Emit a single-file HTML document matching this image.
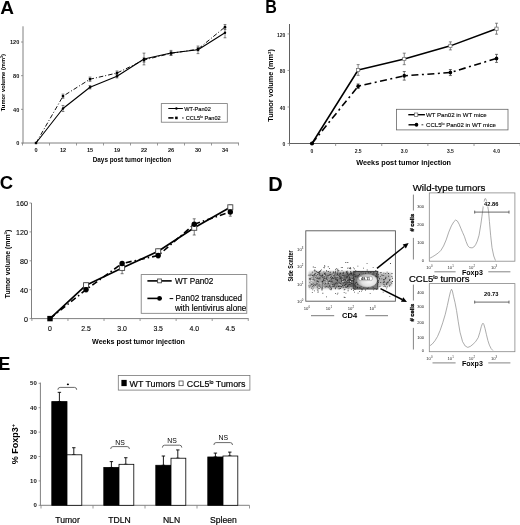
<!DOCTYPE html>
<html><head><meta charset="utf-8"><style>
html,body{margin:0;padding:0;background:#fff;width:520px;height:525px;overflow:hidden}
svg{display:block;will-change:transform}
text{font-family:"Liberation Sans",sans-serif}
</style></head><body>
<svg width="520" height="525" viewBox="0 0 520 525" font-family="Liberation Sans, sans-serif">
<text x="0.2" y="13.7" font-size="19" font-weight="bold">A</text>
<line x1="23" y1="26.3" x2="23" y2="143.5" stroke="#808080" stroke-width="1"/>
<line x1="22.5" y1="143" x2="239" y2="143" stroke="#808080" stroke-width="1"/>
<line x1="21" y1="143" x2="23" y2="143" stroke="#808080" stroke-width="0.8"/>
<text x="19.3" y="145.4" font-size="5.6" text-anchor="end" font-weight="bold" fill="#111">0</text>
<line x1="21" y1="109.33" x2="23" y2="109.33" stroke="#808080" stroke-width="0.8"/>
<text x="19.3" y="111.74" font-size="5.6" text-anchor="end" font-weight="bold" fill="#111">40</text>
<line x1="21" y1="75.66" x2="23" y2="75.66" stroke="#808080" stroke-width="0.8"/>
<text x="19.3" y="78.07" font-size="5.6" text-anchor="end" font-weight="bold" fill="#111">80</text>
<line x1="21" y1="42" x2="23" y2="42" stroke="#808080" stroke-width="0.8"/>
<text x="19.3" y="44.4" font-size="5.6" text-anchor="end" font-weight="bold" fill="#111">120</text>
<line x1="22.5" y1="143" x2="22.5" y2="145.5" stroke="#808080" stroke-width="0.8"/>
<line x1="49.5" y1="143" x2="49.5" y2="145.5" stroke="#808080" stroke-width="0.8"/>
<line x1="76.5" y1="143" x2="76.5" y2="145.5" stroke="#808080" stroke-width="0.8"/>
<line x1="103.5" y1="143" x2="103.5" y2="145.5" stroke="#808080" stroke-width="0.8"/>
<line x1="130.5" y1="143" x2="130.5" y2="145.5" stroke="#808080" stroke-width="0.8"/>
<line x1="157.5" y1="143" x2="157.5" y2="145.5" stroke="#808080" stroke-width="0.8"/>
<line x1="184.5" y1="143" x2="184.5" y2="145.5" stroke="#808080" stroke-width="0.8"/>
<line x1="211.5" y1="143" x2="211.5" y2="145.5" stroke="#808080" stroke-width="0.8"/>
<line x1="238.5" y1="143" x2="238.5" y2="145.5" stroke="#808080" stroke-width="0.8"/>
<text x="36" y="152" font-size="5.6" text-anchor="middle" font-weight="bold" fill="#111">0</text>
<text x="63" y="152" font-size="5.6" text-anchor="middle" font-weight="bold" fill="#111">12</text>
<text x="90" y="152" font-size="5.6" text-anchor="middle" font-weight="bold" fill="#111">15</text>
<text x="117" y="152" font-size="5.6" text-anchor="middle" font-weight="bold" fill="#111">19</text>
<text x="144" y="152" font-size="5.6" text-anchor="middle" font-weight="bold" fill="#111">22</text>
<text x="171" y="152" font-size="5.6" text-anchor="middle" font-weight="bold" fill="#111">26</text>
<text x="198" y="152" font-size="5.6" text-anchor="middle" font-weight="bold" fill="#111">30</text>
<text x="225" y="152" font-size="5.6" text-anchor="middle" font-weight="bold" fill="#111">34</text>
<text x="131.9" y="162.29" font-size="6.4" text-anchor="middle" font-weight="bold" fill="#000">Days post tumor injection</text>
<text transform="translate(5.28,82.6) rotate(-90)" font-size="5.8" text-anchor="middle" font-weight="bold" fill="#000">Tumor volume (mm<tspan font-size="3.6" dy="-2">3</tspan><tspan dy="2">)</tspan></text>
<polyline points="36,143 63,96.2 90,79.2 117,73.05 144,60.01 171,53.36 198,49.15 225,27.01" fill="none" stroke="#111" stroke-width="1" stroke-linejoin="round" stroke-dasharray="4.5,2,1,2"/>
<polyline points="36,143 63,108.49 90,87.2 117,76.25 144,59 171,52.94 198,49.82 225,32.74" fill="none" stroke="#000" stroke-width="1.1" stroke-linejoin="round"/>
<line x1="63" y1="105.46" x2="63" y2="111.52" stroke="#333" stroke-width="0.6"/>
<line x1="61.6" y1="105.46" x2="64.4" y2="105.46" stroke="#333" stroke-width="0.6"/>
<line x1="61.6" y1="111.52" x2="64.4" y2="111.52" stroke="#333" stroke-width="0.6"/>
<line x1="63" y1="94.1" x2="63" y2="98.31" stroke="#333" stroke-width="0.6"/>
<line x1="61.6" y1="94.1" x2="64.4" y2="94.1" stroke="#333" stroke-width="0.6"/>
<line x1="61.6" y1="98.31" x2="64.4" y2="98.31" stroke="#333" stroke-width="0.6"/>
<circle cx="63" cy="108.49" r="1.2" fill="#000"/>
<rect x="61.8" y="95" width="2.4" height="2.4" fill="#000"/>
<line x1="90" y1="85.51" x2="90" y2="88.88" stroke="#333" stroke-width="0.6"/>
<line x1="88.6" y1="85.51" x2="91.4" y2="85.51" stroke="#333" stroke-width="0.6"/>
<line x1="88.6" y1="88.88" x2="91.4" y2="88.88" stroke="#333" stroke-width="0.6"/>
<line x1="90" y1="77.09" x2="90" y2="81.3" stroke="#333" stroke-width="0.6"/>
<line x1="88.6" y1="77.09" x2="91.4" y2="77.09" stroke="#333" stroke-width="0.6"/>
<line x1="88.6" y1="81.3" x2="91.4" y2="81.3" stroke="#333" stroke-width="0.6"/>
<circle cx="90" cy="87.2" r="1.2" fill="#000"/>
<rect x="88.8" y="78" width="2.4" height="2.4" fill="#000"/>
<line x1="117" y1="74.57" x2="117" y2="77.94" stroke="#333" stroke-width="0.6"/>
<line x1="115.6" y1="74.57" x2="118.4" y2="74.57" stroke="#333" stroke-width="0.6"/>
<line x1="115.6" y1="77.94" x2="118.4" y2="77.94" stroke="#333" stroke-width="0.6"/>
<line x1="117" y1="70.95" x2="117" y2="75.16" stroke="#333" stroke-width="0.6"/>
<line x1="115.6" y1="70.95" x2="118.4" y2="70.95" stroke="#333" stroke-width="0.6"/>
<line x1="115.6" y1="75.16" x2="118.4" y2="75.16" stroke="#333" stroke-width="0.6"/>
<circle cx="117" cy="76.25" r="1.2" fill="#000"/>
<rect x="115.8" y="71.85" width="2.4" height="2.4" fill="#000"/>
<line x1="144" y1="53.11" x2="144" y2="64.89" stroke="#333" stroke-width="0.6"/>
<line x1="142.6" y1="53.11" x2="145.4" y2="53.11" stroke="#333" stroke-width="0.6"/>
<line x1="142.6" y1="64.89" x2="145.4" y2="64.89" stroke="#333" stroke-width="0.6"/>
<line x1="144" y1="57.9" x2="144" y2="62.11" stroke="#333" stroke-width="0.6"/>
<line x1="142.6" y1="57.9" x2="145.4" y2="57.9" stroke="#333" stroke-width="0.6"/>
<line x1="142.6" y1="62.11" x2="145.4" y2="62.11" stroke="#333" stroke-width="0.6"/>
<circle cx="144" cy="59" r="1.2" fill="#000"/>
<rect x="142.8" y="58.81" width="2.4" height="2.4" fill="#000"/>
<line x1="171" y1="50.41" x2="171" y2="55.46" stroke="#333" stroke-width="0.6"/>
<line x1="169.6" y1="50.41" x2="172.4" y2="50.41" stroke="#333" stroke-width="0.6"/>
<line x1="169.6" y1="55.46" x2="172.4" y2="55.46" stroke="#333" stroke-width="0.6"/>
<line x1="171" y1="51.68" x2="171" y2="55.04" stroke="#333" stroke-width="0.6"/>
<line x1="169.6" y1="51.68" x2="172.4" y2="51.68" stroke="#333" stroke-width="0.6"/>
<line x1="169.6" y1="55.04" x2="172.4" y2="55.04" stroke="#333" stroke-width="0.6"/>
<circle cx="171" cy="52.94" r="1.2" fill="#000"/>
<rect x="169.8" y="52.16" width="2.4" height="2.4" fill="#000"/>
<line x1="198" y1="46.04" x2="198" y2="53.61" stroke="#333" stroke-width="0.6"/>
<line x1="196.6" y1="46.04" x2="199.4" y2="46.04" stroke="#333" stroke-width="0.6"/>
<line x1="196.6" y1="53.61" x2="199.4" y2="53.61" stroke="#333" stroke-width="0.6"/>
<line x1="198" y1="47.47" x2="198" y2="50.83" stroke="#333" stroke-width="0.6"/>
<line x1="196.6" y1="47.47" x2="199.4" y2="47.47" stroke="#333" stroke-width="0.6"/>
<line x1="196.6" y1="50.83" x2="199.4" y2="50.83" stroke="#333" stroke-width="0.6"/>
<circle cx="198" cy="49.82" r="1.2" fill="#000"/>
<rect x="196.8" y="47.95" width="2.4" height="2.4" fill="#000"/>
<line x1="225" y1="27.69" x2="225" y2="37.79" stroke="#333" stroke-width="0.6"/>
<line x1="223.6" y1="27.69" x2="226.4" y2="27.69" stroke="#333" stroke-width="0.6"/>
<line x1="223.6" y1="37.79" x2="226.4" y2="37.79" stroke="#333" stroke-width="0.6"/>
<line x1="225" y1="24.49" x2="225" y2="29.54" stroke="#333" stroke-width="0.6"/>
<line x1="223.6" y1="24.49" x2="226.4" y2="24.49" stroke="#333" stroke-width="0.6"/>
<line x1="223.6" y1="29.54" x2="226.4" y2="29.54" stroke="#333" stroke-width="0.6"/>
<circle cx="225" cy="32.74" r="1.2" fill="#000"/>
<rect x="223.8" y="25.81" width="2.4" height="2.4" fill="#000"/>
<rect x="34.8" y="141.8" width="2.4" height="2.4" fill="#000"/>
<rect x="161.3" y="103.6" width="66" height="18.6" fill="#fff" stroke="#777" stroke-width="0.8"/>
<line x1="168.3" y1="108.5" x2="182.9" y2="108.5" stroke="#000" stroke-width="1"/>
<circle cx="176.4" cy="108.5" r="1.2" fill="#000"/>
<text x="184.2" y="110.62" font-size="5.65" text-anchor="start" fill="#000" stroke="#000" stroke-width="0.12">WT-Pan02</text>
<line x1="168.3" y1="117.9" x2="173.5" y2="117.9" stroke="#000" stroke-width="1.6"/>
<rect x="175.1" y="116.6" width="2.6" height="2.6" fill="#000"/>
<circle cx="182.9" cy="117.9" r="0.7" fill="#000"/>
<text x="185.8" y="119.92" font-size="5.65" text-anchor="start" fill="#000" stroke="#000" stroke-width="0.12">CCL5<tspan font-size="3.4" dy="-2">lo</tspan><tspan dy="2"> Pan02</tspan></text>
<text x="265.2" y="12.7" font-size="18" font-weight="bold" textLength="11.6" lengthAdjust="spacingAndGlyphs">B</text>
<line x1="289.5" y1="24" x2="289.5" y2="144" stroke="#606060" stroke-width="1"/>
<line x1="289.5" y1="143.5" x2="520" y2="143.5" stroke="#606060" stroke-width="1"/>
<line x1="287.5" y1="143.5" x2="289.5" y2="143.5" stroke="#808080" stroke-width="0.8"/>
<text x="285.4" y="146.19" font-size="5" text-anchor="end" font-weight="bold" fill="#222">0</text>
<line x1="287.5" y1="106.97" x2="289.5" y2="106.97" stroke="#808080" stroke-width="0.8"/>
<text x="285.4" y="109.66" font-size="5" text-anchor="end" font-weight="bold" fill="#222">40</text>
<line x1="287.5" y1="70.44" x2="289.5" y2="70.44" stroke="#808080" stroke-width="0.8"/>
<text x="285.4" y="73.13" font-size="5" text-anchor="end" font-weight="bold" fill="#222">80</text>
<line x1="287.5" y1="33.9" x2="289.5" y2="33.9" stroke="#808080" stroke-width="0.8"/>
<text x="285.4" y="36.59" font-size="5" text-anchor="end" font-weight="bold" fill="#222">120</text>
<line x1="289.5" y1="143.5" x2="289.5" y2="146" stroke="#808080" stroke-width="0.8"/>
<line x1="335.63" y1="143.5" x2="335.63" y2="146" stroke="#808080" stroke-width="0.8"/>
<line x1="381.76" y1="143.5" x2="381.76" y2="146" stroke="#808080" stroke-width="0.8"/>
<line x1="427.89" y1="143.5" x2="427.89" y2="146" stroke="#808080" stroke-width="0.8"/>
<line x1="474.02" y1="143.5" x2="474.02" y2="146" stroke="#808080" stroke-width="0.8"/>
<line x1="520.15" y1="143.5" x2="520.15" y2="146" stroke="#808080" stroke-width="0.8"/>
<text x="312" y="153.39" font-size="5" text-anchor="middle" font-weight="bold" fill="#222">0</text>
<text x="358.13" y="153.39" font-size="5" text-anchor="middle" font-weight="bold" fill="#222">2.5</text>
<text x="404.26" y="153.39" font-size="5" text-anchor="middle" font-weight="bold" fill="#222">3.0</text>
<text x="450.39" y="153.39" font-size="5" text-anchor="middle" font-weight="bold" fill="#222">3.5</text>
<text x="496.52" y="153.39" font-size="5" text-anchor="middle" font-weight="bold" fill="#222">4.0</text>
<text x="403.7" y="164.8" font-size="7.27" text-anchor="middle" font-weight="bold" fill="#000">Weeks post tumor injection</text>
<text transform="translate(273.43,85.4) rotate(-90)" font-size="7.35" text-anchor="middle" font-weight="bold" fill="#000">Tumor volume (mm<tspan font-size="4.4" dy="-2.6">3</tspan><tspan dy="2.6">)</tspan></text>
<polyline points="312,143.5 358.13,86.24 404.26,75.82 450.39,72.54 496.52,58.38" fill="none" stroke="#000" stroke-width="1.6" stroke-linejoin="round" stroke-dasharray="7,3.5,2,3.5"/>
<polyline points="312,143.5 358.13,69.98 404.26,58.93 450.39,45.87 496.52,28.7" fill="none" stroke="#000" stroke-width="1.55" stroke-linejoin="round"/>
<line x1="358.13" y1="64.59" x2="358.13" y2="75.37" stroke="#555" stroke-width="0.7"/>
<line x1="356.63" y1="64.59" x2="359.63" y2="64.59" stroke="#555" stroke-width="0.7"/>
<line x1="356.63" y1="75.37" x2="359.63" y2="75.37" stroke="#555" stroke-width="0.7"/>
<line x1="358.13" y1="83.95" x2="358.13" y2="88.52" stroke="#333" stroke-width="0.7"/>
<line x1="356.63" y1="83.95" x2="359.63" y2="83.95" stroke="#333" stroke-width="0.7"/>
<line x1="356.63" y1="88.52" x2="359.63" y2="88.52" stroke="#333" stroke-width="0.7"/>
<rect x="356.53" y="68.38" width="3.2" height="3.2" fill="#fff" stroke="#666" stroke-width="0.7"/>
<ellipse cx="358.13" cy="86.24" rx="1.8" ry="2" fill="#000"/>
<line x1="404.26" y1="53.17" x2="404.26" y2="64.68" stroke="#555" stroke-width="0.7"/>
<line x1="402.76" y1="53.17" x2="405.76" y2="53.17" stroke="#555" stroke-width="0.7"/>
<line x1="402.76" y1="64.68" x2="405.76" y2="64.68" stroke="#555" stroke-width="0.7"/>
<line x1="404.26" y1="71.53" x2="404.26" y2="80.12" stroke="#333" stroke-width="0.7"/>
<line x1="402.76" y1="71.53" x2="405.76" y2="71.53" stroke="#333" stroke-width="0.7"/>
<line x1="402.76" y1="80.12" x2="405.76" y2="80.12" stroke="#333" stroke-width="0.7"/>
<rect x="402.66" y="57.33" width="3.2" height="3.2" fill="#fff" stroke="#666" stroke-width="0.7"/>
<ellipse cx="404.26" cy="75.82" rx="1.8" ry="2" fill="#000"/>
<line x1="450.39" y1="41.85" x2="450.39" y2="49.89" stroke="#555" stroke-width="0.7"/>
<line x1="448.89" y1="41.85" x2="451.89" y2="41.85" stroke="#555" stroke-width="0.7"/>
<line x1="448.89" y1="49.89" x2="451.89" y2="49.89" stroke="#555" stroke-width="0.7"/>
<line x1="450.39" y1="69.52" x2="450.39" y2="75.55" stroke="#333" stroke-width="0.7"/>
<line x1="448.89" y1="69.52" x2="451.89" y2="69.52" stroke="#333" stroke-width="0.7"/>
<line x1="448.89" y1="75.55" x2="451.89" y2="75.55" stroke="#333" stroke-width="0.7"/>
<rect x="448.79" y="44.27" width="3.2" height="3.2" fill="#fff" stroke="#666" stroke-width="0.7"/>
<ellipse cx="450.39" cy="72.54" rx="1.8" ry="2" fill="#000"/>
<line x1="496.52" y1="23.22" x2="496.52" y2="34.18" stroke="#555" stroke-width="0.7"/>
<line x1="495.02" y1="23.22" x2="498.02" y2="23.22" stroke="#555" stroke-width="0.7"/>
<line x1="495.02" y1="34.18" x2="498.02" y2="34.18" stroke="#555" stroke-width="0.7"/>
<line x1="496.52" y1="54.36" x2="496.52" y2="62.4" stroke="#333" stroke-width="0.7"/>
<line x1="495.02" y1="54.36" x2="498.02" y2="54.36" stroke="#333" stroke-width="0.7"/>
<line x1="495.02" y1="62.4" x2="498.02" y2="62.4" stroke="#333" stroke-width="0.7"/>
<rect x="494.92" y="27.1" width="3.2" height="3.2" fill="#fff" stroke="#666" stroke-width="0.7"/>
<ellipse cx="496.52" cy="58.38" rx="1.8" ry="2" fill="#000"/>
<circle cx="312" cy="143.5" r="2.1" fill="#000"/>
<rect x="396.5" y="109.3" width="111.5" height="20.6" fill="#fff" stroke="#666" stroke-width="0.8"/>
<line x1="408.3" y1="114.7" x2="424.9" y2="114.7" stroke="#000" stroke-width="1.4"/>
<rect x="414.4" y="113" width="3.4" height="3.4" fill="#fff" stroke="#666" stroke-width="0.7"/>
<text x="425.9" y="116.88" font-size="6.1" text-anchor="start" fill="#000" stroke="#000" stroke-width="0.12">WT Pan02 in WT mice</text>
<line x1="408.5" y1="124.8" x2="416.5" y2="124.8" stroke="#000" stroke-width="1.4"/>
<ellipse cx="416.5" cy="124.8" rx="1.8" ry="2" fill="#000"/>
<line x1="421.5" y1="124.8" x2="423.3" y2="124.8" stroke="#000" stroke-width="0.8"/>
<text x="426" y="126.98" font-size="6.1" text-anchor="start" fill="#000" stroke="#000" stroke-width="0.12">CCL5<tspan font-size="3.7" dy="-2.2">lo</tspan><tspan dy="2.2"> Pan02 in WT mice</tspan></text>
<text x="-0.3" y="188.6" font-size="18.5" font-weight="bold">C</text>
<line x1="31.5" y1="203" x2="31.5" y2="319" stroke="#808080" stroke-width="1"/>
<line x1="31.5" y1="318.6" x2="248.6" y2="318.6" stroke="#808080" stroke-width="1"/>
<line x1="29.5" y1="318.6" x2="31.5" y2="318.6" stroke="#808080" stroke-width="0.8"/>
<text x="27.9" y="322.04" font-size="7.1" text-anchor="end" fill="#000" stroke="#000" stroke-width="0.12">0</text>
<line x1="29.5" y1="289.7" x2="31.5" y2="289.7" stroke="#808080" stroke-width="0.8"/>
<text x="27.9" y="293.14" font-size="7.1" text-anchor="end" fill="#000" stroke="#000" stroke-width="0.12">40</text>
<line x1="29.5" y1="260.8" x2="31.5" y2="260.8" stroke="#808080" stroke-width="0.8"/>
<text x="27.9" y="264.24" font-size="7.1" text-anchor="end" fill="#000" stroke="#000" stroke-width="0.12">80</text>
<line x1="29.5" y1="231.9" x2="31.5" y2="231.9" stroke="#808080" stroke-width="0.8"/>
<text x="27.9" y="235.34" font-size="7.1" text-anchor="end" fill="#000" stroke="#000" stroke-width="0.12">120</text>
<line x1="29.5" y1="203" x2="31.5" y2="203" stroke="#808080" stroke-width="0.8"/>
<text x="27.9" y="206.44" font-size="7.1" text-anchor="end" fill="#000" stroke="#000" stroke-width="0.12">160</text>
<line x1="31.9" y1="318.6" x2="31.9" y2="321" stroke="#808080" stroke-width="0.8"/>
<line x1="67.96" y1="318.6" x2="67.96" y2="321" stroke="#808080" stroke-width="0.8"/>
<line x1="104.02" y1="318.6" x2="104.02" y2="321" stroke="#808080" stroke-width="0.8"/>
<line x1="140.08" y1="318.6" x2="140.08" y2="321" stroke="#808080" stroke-width="0.8"/>
<line x1="176.14" y1="318.6" x2="176.14" y2="321" stroke="#808080" stroke-width="0.8"/>
<line x1="212.2" y1="318.6" x2="212.2" y2="321" stroke="#808080" stroke-width="0.8"/>
<line x1="248.26" y1="318.6" x2="248.26" y2="321" stroke="#808080" stroke-width="0.8"/>
<text x="50" y="331.37" font-size="6.9" text-anchor="middle" fill="#000" stroke="#000" stroke-width="0.12">0</text>
<text x="86.06" y="331.37" font-size="6.9" text-anchor="middle" fill="#000" stroke="#000" stroke-width="0.12">2.5</text>
<text x="122.12" y="331.37" font-size="6.9" text-anchor="middle" fill="#000" stroke="#000" stroke-width="0.12">3.0</text>
<text x="158.18" y="331.37" font-size="6.9" text-anchor="middle" fill="#000" stroke="#000" stroke-width="0.12">3.5</text>
<text x="194.24" y="331.37" font-size="6.9" text-anchor="middle" fill="#000" stroke="#000" stroke-width="0.12">4.0</text>
<text x="230.3" y="331.37" font-size="6.9" text-anchor="middle" fill="#000" stroke="#000" stroke-width="0.12">4.5</text>
<text x="138.5" y="344.05" font-size="7.13" text-anchor="middle" font-weight="bold" fill="#000">Weeks post tumor injection</text>
<text transform="translate(9.79,264) rotate(-90)" font-size="6.95" text-anchor="middle" font-weight="bold" fill="#000">Tumor volume (mm<tspan font-size="4.2" dy="-2.5">3</tspan><tspan dy="2.5">)</tspan></text>
<polyline points="50,318.6 86.06,289.6 122.12,263.5 158.18,255.5 194.24,224.2 230.3,212" fill="none" stroke="#000" stroke-width="1.6" stroke-linejoin="round" stroke-dasharray="6,3,1.5,3"/>
<polyline points="50,318.6 86.06,285.2 122.12,267.9 158.18,251.3 194.24,227.8 230.3,207.3" fill="none" stroke="#000" stroke-width="1.7" stroke-linejoin="round"/>
<line x1="122.12" y1="262.5" x2="122.12" y2="273.7" stroke="#444" stroke-width="0.7"/>
<line x1="120.62" y1="262.5" x2="123.62" y2="262.5" stroke="#444" stroke-width="0.7"/>
<line x1="120.62" y1="273.7" x2="123.62" y2="273.7" stroke="#444" stroke-width="0.7"/>
<line x1="194.24" y1="218.8" x2="194.24" y2="235" stroke="#444" stroke-width="0.7"/>
<line x1="192.74" y1="218.8" x2="195.74" y2="218.8" stroke="#444" stroke-width="0.7"/>
<line x1="192.74" y1="235" x2="195.74" y2="235" stroke="#444" stroke-width="0.7"/>
<line x1="230.3" y1="205" x2="230.3" y2="216.2" stroke="#444" stroke-width="0.7"/>
<line x1="228.8" y1="205" x2="231.8" y2="205" stroke="#444" stroke-width="0.7"/>
<line x1="228.8" y1="216.2" x2="231.8" y2="216.2" stroke="#444" stroke-width="0.7"/>
<line x1="158.18" y1="249" x2="158.18" y2="258" stroke="#444" stroke-width="0.7"/>
<line x1="156.68" y1="249" x2="159.68" y2="249" stroke="#444" stroke-width="0.7"/>
<line x1="156.68" y1="258" x2="159.68" y2="258" stroke="#444" stroke-width="0.7"/>
<line x1="86.06" y1="283" x2="86.06" y2="292" stroke="#444" stroke-width="0.7"/>
<line x1="84.56" y1="283" x2="87.56" y2="283" stroke="#444" stroke-width="0.7"/>
<line x1="84.56" y1="292" x2="87.56" y2="292" stroke="#444" stroke-width="0.7"/>
<rect x="83.56" y="282.7" width="5" height="5" fill="#fff" stroke="#444" stroke-width="0.9"/>
<circle cx="86.06" cy="289.6" r="2.7" fill="#000"/>
<rect x="119.62" y="265.4" width="5" height="5" fill="#fff" stroke="#444" stroke-width="0.9"/>
<circle cx="122.12" cy="263.5" r="2.7" fill="#000"/>
<rect x="155.68" y="248.8" width="5" height="5" fill="#fff" stroke="#444" stroke-width="0.9"/>
<circle cx="158.18" cy="255.5" r="2.7" fill="#000"/>
<rect x="191.74" y="225.3" width="5" height="5" fill="#fff" stroke="#444" stroke-width="0.9"/>
<circle cx="194.24" cy="224.2" r="2.7" fill="#000"/>
<rect x="227.8" y="204.8" width="5" height="5" fill="#fff" stroke="#444" stroke-width="0.9"/>
<circle cx="230.3" cy="212" r="2.7" fill="#000"/>
<rect x="47.3" y="315.9" width="5.4" height="5.4" fill="#000" stroke="none" stroke-width="1"/>
<rect x="141.2" y="274.6" width="105.6" height="38.7" fill="#fff" stroke="#777" stroke-width="0.8"/>
<line x1="147.4" y1="280.9" x2="171.7" y2="280.9" stroke="#000" stroke-width="1.6"/>
<rect x="157.6" y="279" width="3.8" height="3.8" fill="#fff" stroke="#444" stroke-width="0.9"/>
<text x="174.9" y="283.84" font-size="8.2" text-anchor="start" fill="#000" stroke="#000" stroke-width="0.15">WT Pan02</text>
<line x1="147.4" y1="298.4" x2="162" y2="298.4" stroke="#000" stroke-width="1.6"/>
<circle cx="159.5" cy="298.4" r="2.3" fill="#000"/>
<line x1="169.6" y1="298.6" x2="173.2" y2="298.6" stroke="#000" stroke-width="1"/>
<text x="175.6" y="301.34" font-size="8.2" text-anchor="start" fill="#000" stroke="#000" stroke-width="0.15">Pan02 transduced</text>
<text x="174.9" y="310.94" font-size="8.2" text-anchor="start" fill="#000" stroke="#000" stroke-width="0.15">with lentivirus alone</text>
<text x="268.3" y="190.6" font-size="20" font-weight="bold">D</text>
<rect x="305.8" y="230.8" width="89.6" height="70.4" fill="none" stroke="#555" stroke-width="0.9"/>
<defs><linearGradient id="bandg" x1="0" x2="1" y1="0" y2="0"><stop offset="0" stop-color="#b4b4b4"/><stop offset="0.5" stop-color="#8c8c8c"/><stop offset="1" stop-color="#686868"/></linearGradient><filter id="bl" x="-10%" y="-30%" width="120%" height="160%"><feGaussianBlur stdDeviation="0.9"/></filter></defs>
<rect x="309" y="271.8" width="45" height="16.4" fill="url(#bandg)" filter="url(#bl)"/>
<rect x="378" y="273" width="13.5" height="13" fill="#b4b4b4" filter="url(#bl)"/>
<rect x="354" y="271.8" width="23.5" height="17" fill="#7a7a7a"/>
<path d="M309.8 280h.8v.8h-.8zM327.9 271.12h.8v.8h-.8zM327.46 286.49h.8v.8h-.8zM339.8 278.38h.8v.8h-.8zM335.22 278.9h.8v.8h-.8zM345.29 283.89h.8v.8h-.8zM314.33 279.63h.8v.8h-.8zM325.91 277.8h.8v.8h-.8zM337.57 270.96h.8v.8h-.8zM311.89 277.08h.8v.8h-.8zM349.14 282.17h.8v.8h-.8zM329.46 279.52h.8v.8h-.8zM346.95 272.98h.8v.8h-.8zM352.84 280.42h.8v.8h-.8zM319.59 277.14h.8v.8h-.8zM346.44 284.72h.8v.8h-.8zM331.95 276.92h.8v.8h-.8zM324.58 274.18h.8v.8h-.8zM338.47 285.93h.8v.8h-.8zM343.16 279.4h.8v.8h-.8zM352.64 284.41h.8v.8h-.8zM333.45 272.36h.8v.8h-.8zM346.82 273.98h.8v.8h-.8zM319.5 278.21h.8v.8h-.8zM333.77 285.62h.8v.8h-.8zM334.01 274.74h.8v.8h-.8zM310.5 274.58h.8v.8h-.8zM337.07 280.1h.8v.8h-.8zM312.05 275.09h.8v.8h-.8zM344.55 275.19h.8v.8h-.8zM334.5 283.92h.8v.8h-.8zM318.49 271.92h.8v.8h-.8zM307.88 274.78h.8v.8h-.8zM342.33 280.89h.8v.8h-.8zM329.88 288.67h.8v.8h-.8zM326.51 276.76h.8v.8h-.8zM319.32 273.01h.8v.8h-.8zM321.92 276.94h.8v.8h-.8zM316.69 279.95h.8v.8h-.8zM349.37 277.61h.8v.8h-.8zM339.92 283.77h.8v.8h-.8zM336.74 282.75h.8v.8h-.8zM321.67 281.23h.8v.8h-.8zM340.36 283.42h.8v.8h-.8zM312.71 287.84h.8v.8h-.8zM354.15 288.71h.8v.8h-.8zM328.66 275.15h.8v.8h-.8zM349.75 283.98h.8v.8h-.8zM350.27 279.57h.8v.8h-.8zM322.23 286.76h.8v.8h-.8zM343.19 286.73h.8v.8h-.8zM327.63 275.29h.8v.8h-.8zM352.1 274.76h.8v.8h-.8zM333.47 284.31h.8v.8h-.8zM338.06 275.51h.8v.8h-.8zM315.07 272.98h.8v.8h-.8zM350.67 279.79h.8v.8h-.8zM313.73 273.61h.8v.8h-.8zM323.48 271.55h.8v.8h-.8zM348.59 274.08h.8v.8h-.8zM318.98 271.91h.8v.8h-.8zM329.04 280.9h.8v.8h-.8zM338.11 275.87h.8v.8h-.8zM335.1 277.58h.8v.8h-.8zM349.6 279.35h.8v.8h-.8zM339.51 278.23h.8v.8h-.8zM339.17 288.48h.8v.8h-.8zM342.63 279.95h.8v.8h-.8zM313.84 270.75h.8v.8h-.8zM353.48 273.91h.8v.8h-.8zM351.32 273.62h.8v.8h-.8zM346.13 285.26h.8v.8h-.8zM322.25 275.3h.8v.8h-.8zM344.25 282.03h.8v.8h-.8zM318.92 271.01h.8v.8h-.8zM341.21 278.77h.8v.8h-.8zM348.75 278.82h.8v.8h-.8zM344.49 288.9h.8v.8h-.8zM335.73 282.28h.8v.8h-.8zM324.77 272.57h.8v.8h-.8zM339.7 273.46h.8v.8h-.8zM333.52 282.68h.8v.8h-.8zM349.55 279.06h.8v.8h-.8zM324.87 279.94h.8v.8h-.8zM353.6 273.71h.8v.8h-.8zM314.73 285.65h.8v.8h-.8zM331.96 277.49h.8v.8h-.8zM308.84 286.72h.8v.8h-.8zM344.59 279h.8v.8h-.8zM329.81 271.87h.8v.8h-.8zM351.34 273.93h.8v.8h-.8zM331.39 276.18h.8v.8h-.8zM339.76 287.88h.8v.8h-.8zM326 285.89h.8v.8h-.8zM343.86 278.68h.8v.8h-.8zM335.24 283.17h.8v.8h-.8zM350.17 272.38h.8v.8h-.8zM338.48 270.15h.8v.8h-.8zM318.98 288.04h.8v.8h-.8zM332.62 277.94h.8v.8h-.8zM309.81 285.51h.8v.8h-.8zM337.92 286.21h.8v.8h-.8zM321.91 275.8h.8v.8h-.8zM317.89 271.84h.8v.8h-.8zM345 280.32h.8v.8h-.8zM341.93 281.28h.8v.8h-.8zM317.22 282.34h.8v.8h-.8zM350.9 272.64h.8v.8h-.8zM313.84 270.28h.8v.8h-.8zM351.07 288.87h.8v.8h-.8zM316.92 271.97h.8v.8h-.8zM346.77 282.52h.8v.8h-.8zM341.5 277.17h.8v.8h-.8zM340.96 280.62h.8v.8h-.8zM343.74 289.55h.8v.8h-.8zM344.93 282.45h.8v.8h-.8zM311.15 287.74h.8v.8h-.8zM323.8 276.33h.8v.8h-.8zM349.66 274.53h.8v.8h-.8zM322.74 280.3h.8v.8h-.8zM316.46 282.65h.8v.8h-.8zM316.95 277.58h.8v.8h-.8zM322.09 282.45h.8v.8h-.8zM330.61 289.48h.8v.8h-.8zM352.34 280.24h.8v.8h-.8zM352.3 280.4h.8v.8h-.8zM345.63 277.66h.8v.8h-.8zM348 275.13h.8v.8h-.8zM319.22 278.35h.8v.8h-.8zM337.52 270h.8v.8h-.8zM352.88 283.02h.8v.8h-.8zM344.42 276.73h.8v.8h-.8zM350.58 285.77h.8v.8h-.8zM349.55 280.97h.8v.8h-.8zM309.82 279.18h.8v.8h-.8zM329.07 285.18h.8v.8h-.8zM351.06 283.01h.8v.8h-.8zM317.23 272.78h.8v.8h-.8zM318.68 284.59h.8v.8h-.8zM348.23 284.51h.8v.8h-.8zM341.57 269.93h.8v.8h-.8zM338.36 286.29h.8v.8h-.8zM321.99 284.51h.8v.8h-.8zM348.5 279.57h.8v.8h-.8zM340.9 286.5h.8v.8h-.8zM340 288.25h.8v.8h-.8zM329.43 273.89h.8v.8h-.8zM335.41 273.54h.8v.8h-.8zM323.63 280.24h.8v.8h-.8zM330.44 281.21h.8v.8h-.8zM315.71 271.4h.8v.8h-.8zM352.66 288.17h.8v.8h-.8zM335.83 277.77h.8v.8h-.8zM325.95 278.8h.8v.8h-.8zM343.53 271.84h.8v.8h-.8zM315.13 274.54h.8v.8h-.8zM337.29 278.88h.8v.8h-.8zM313.88 274.2h.8v.8h-.8zM341.4 280.93h.8v.8h-.8zM322.33 288.03h.8v.8h-.8zM320.8 274.93h.8v.8h-.8zM351.59 271.68h.8v.8h-.8zM321.15 289.57h.8v.8h-.8zM345.9 276.62h.8v.8h-.8zM317.52 281.3h.8v.8h-.8zM316.48 271.31h.8v.8h-.8zM336.33 279.76h.8v.8h-.8zM346.12 281.53h.8v.8h-.8zM329.97 287.4h.8v.8h-.8zM346.36 287.27h.8v.8h-.8zM317.78 273.4h.8v.8h-.8zM319.07 286.29h.8v.8h-.8zM311.65 283.89h.8v.8h-.8zM332.2 283.96h.8v.8h-.8zM348.91 284.26h.8v.8h-.8zM344.45 276.57h.8v.8h-.8zM352.83 275.54h.8v.8h-.8zM353.08 280.13h.8v.8h-.8zM329.48 280.54h.8v.8h-.8zM326.6 275.55h.8v.8h-.8zM321.97 274.62h.8v.8h-.8zM344.22 272.92h.8v.8h-.8zM349 278.63h.8v.8h-.8zM342.6 272.84h.8v.8h-.8zM329.07 284.38h.8v.8h-.8zM331.08 278.71h.8v.8h-.8zM346.81 280.11h.8v.8h-.8zM331.34 273.52h.8v.8h-.8zM354.9 282.62h.8v.8h-.8zM312.14 271.73h.8v.8h-.8zM345.88 270.96h.8v.8h-.8zM324.06 273.14h.8v.8h-.8zM330.35 285.79h.8v.8h-.8zM315.36 276.98h.8v.8h-.8zM326.43 271.03h.8v.8h-.8zM346.8 276.83h.8v.8h-.8zM316.22 275.46h.8v.8h-.8zM314.51 284.03h.8v.8h-.8zM320 286.65h.8v.8h-.8zM352.84 279.95h.8v.8h-.8zM317.24 287.41h.8v.8h-.8zM331.73 280.71h.8v.8h-.8zM322.47 283.15h.8v.8h-.8zM313.37 275.31h.8v.8h-.8zM339.76 283.17h.8v.8h-.8zM337.31 273.39h.8v.8h-.8zM339.98 276.79h.8v.8h-.8zM347.21 285.46h.8v.8h-.8zM309.28 274.66h.8v.8h-.8zM313.15 285.17h.8v.8h-.8zM340.87 286.06h.8v.8h-.8zM333.22 274.77h.8v.8h-.8zM324.25 278.06h.8v.8h-.8zM339.31 274.53h.8v.8h-.8zM324.5 273.11h.8v.8h-.8zM319.12 274.69h.8v.8h-.8zM347.76 288.51h.8v.8h-.8zM324.8 286.58h.8v.8h-.8zM310.87 283.67h.8v.8h-.8zM308.93 278.62h.8v.8h-.8zM334.15 276.77h.8v.8h-.8zM317.92 281.33h.8v.8h-.8zM331.74 281.65h.8v.8h-.8zM334.14 285.43h.8v.8h-.8zM346.8 272.19h.8v.8h-.8zM309.1 281.96h.8v.8h-.8zM333.45 286h.8v.8h-.8zM351.6 283.41h.8v.8h-.8zM335.02 272.01h.8v.8h-.8zM312.32 285.95h.8v.8h-.8zM350.09 281.66h.8v.8h-.8zM333.55 277.94h.8v.8h-.8zM330.21 277.16h.8v.8h-.8zM318.32 276.79h.8v.8h-.8zM335.12 271.32h.8v.8h-.8zM320.3 274.93h.8v.8h-.8zM317.52 277.81h.8v.8h-.8zM349.2 276.63h.8v.8h-.8zM337.84 288.43h.8v.8h-.8zM309.77 278.11h.8v.8h-.8zM341.9 276.38h.8v.8h-.8zM338.68 281.91h.8v.8h-.8zM343.79 285.45h.8v.8h-.8zM351.41 272.99h.8v.8h-.8zM345.59 279.04h.8v.8h-.8zM337.23 274.25h.8v.8h-.8zM319.64 278.51h.8v.8h-.8zM346.66 275.44h.8v.8h-.8zM330.4 287.79h.8v.8h-.8zM334.92 287.62h.8v.8h-.8zM354.95 275.74h.8v.8h-.8zM312.38 289.48h.8v.8h-.8zM318.16 278.44h.8v.8h-.8zM313.55 278.4h.8v.8h-.8zM342.25 275.24h.8v.8h-.8zM319.76 271.1h.8v.8h-.8zM341.6 277.81h.8v.8h-.8zM325.58 278.02h.8v.8h-.8zM325.17 274.59h.8v.8h-.8zM322.21 289.42h.8v.8h-.8zM336.54 283.45h.8v.8h-.8zM337.31 280.72h.8v.8h-.8zM329.97 274.19h.8v.8h-.8zM332.42 286.21h.8v.8h-.8zM347.11 286.3h.8v.8h-.8zM314.42 274.81h.8v.8h-.8zM323.39 277.44h.8v.8h-.8zM316.68 281.28h.8v.8h-.8zM336.78 277.24h.8v.8h-.8zM334.89 288.47h.8v.8h-.8zM339.08 276.39h.8v.8h-.8zM344.08 285.33h.8v.8h-.8zM341.27 279.5h.8v.8h-.8zM319.39 273.8h.8v.8h-.8zM328.44 287.52h.8v.8h-.8zM327.91 282.68h.8v.8h-.8zM339.53 275.69h.8v.8h-.8zM316.97 271.75h.8v.8h-.8zM340.06 272.84h.8v.8h-.8zM322.36 281.08h.8v.8h-.8zM327.72 283.48h.8v.8h-.8zM330.93 288.58h.8v.8h-.8zM333.06 271.5h.8v.8h-.8zM317.95 288.47h.8v.8h-.8zM352.52 283.03h.8v.8h-.8zM323.06 278.83h.8v.8h-.8zM335.71 279.07h.8v.8h-.8zM325.06 283.16h.8v.8h-.8zM312.67 279.2h.8v.8h-.8zM316.53 277.9h.8v.8h-.8zM331.19 287.78h.8v.8h-.8zM334.49 283.69h.8v.8h-.8zM343.15 272.82h.8v.8h-.8zM321.07 287.78h.8v.8h-.8zM344.79 284.13h.8v.8h-.8zM329.26 288.39h.8v.8h-.8zM352.32 278.06h.8v.8h-.8zM339.72 272.77h.8v.8h-.8zM313.77 273.72h.8v.8h-.8zM347.76 285.67h.8v.8h-.8zM341.58 276.79h.8v.8h-.8zM352.39 286.46h.8v.8h-.8zM347.71 282.27h.8v.8h-.8zM312.82 283.56h.8v.8h-.8zM346.67 273.44h.8v.8h-.8zM353.16 277.06h.8v.8h-.8zM328.91 286.13h.8v.8h-.8zM348.56 280.13h.8v.8h-.8zM342.13 284.92h.8v.8h-.8zM343.02 282.72h.8v.8h-.8zM345.8 283.43h.8v.8h-.8zM346.81 285.81h.8v.8h-.8zM314.82 284.69h.8v.8h-.8zM343.28 275.29h.8v.8h-.8zM351.22 280.45h.8v.8h-.8zM345.93 271.96h.8v.8h-.8zM352.33 284.77h.8v.8h-.8zM313.44 276.58h.8v.8h-.8zM345 286.72h.8v.8h-.8zM336.52 275.28h.8v.8h-.8zM336.08 286.43h.8v.8h-.8zM317.27 274.24h.8v.8h-.8zM324.34 283.9h.8v.8h-.8zM347.42 276.3h.8v.8h-.8zM337.33 272.52h.8v.8h-.8zM317.5 285.81h.8v.8h-.8zM308.47 285.5h.8v.8h-.8zM331.33 278.31h.8v.8h-.8zM341.15 278.93h.8v.8h-.8zM323.44 267.26h.8v.8h-.8zM349.39 267.89h.8v.8h-.8zM329.08 267.98h.8v.8h-.8zM366.77 269.58h.8v.8h-.8zM324.4 266.32h.8v.8h-.8zM342.23 266.9h.8v.8h-.8zM354.06 268.57h.8v.8h-.8zM314.66 267.08h.8v.8h-.8zM336.74 269.4h.8v.8h-.8zM320.18 270.14h.8v.8h-.8zM355.38 270h.8v.8h-.8zM323.83 267.33h.8v.8h-.8zM327.8 266.35h.8v.8h-.8zM320.95 269.48h.8v.8h-.8zM352.94 267.39h.8v.8h-.8zM372.75 267.04h.8v.8h-.8zM350.19 270.88h.8v.8h-.8zM312.86 266.62h.8v.8h-.8zM326.19 270.07h.8v.8h-.8zM337.48 268.72h.8v.8h-.8zM315.31 270.51h.8v.8h-.8zM335.26 269.36h.8v.8h-.8zM350.07 267.28h.8v.8h-.8zM335.91 267.9h.8v.8h-.8zM348.65 267.61h.8v.8h-.8zM349.52 267.89h.8v.8h-.8zM340.87 267.06h.8v.8h-.8zM343.76 292.27h.8v.8h-.8zM373.17 289.4h.8v.8h-.8zM316.87 289.51h.8v.8h-.8zM369.76 292.9h.8v.8h-.8zM347.7 290.37h.8v.8h-.8zM317.74 290.63h.8v.8h-.8zM317.6 292.32h.8v.8h-.8zM314.24 290.54h.8v.8h-.8zM357.64 292.76h.8v.8h-.8zM364.92 289.53h.8v.8h-.8zM335.12 292.94h.8v.8h-.8zM361.14 290.7h.8v.8h-.8zM359.2 291.23h.8v.8h-.8zM365.22 289.74h.8v.8h-.8zM337.52 292.76h.8v.8h-.8zM317.55 290.38h.8v.8h-.8zM376.06 288.91h.8v.8h-.8zM353.03 290.04h.8v.8h-.8zM311.89 292.24h.8v.8h-.8zM322.46 292.84h.8v.8h-.8zM345.51 292.82h.8v.8h-.8zM365.43 273.52h.8v.8h-.8zM368.17 286.91h.8v.8h-.8zM354.78 288.85h.8v.8h-.8zM371.08 277.08h.8v.8h-.8zM377.31 280.87h.8v.8h-.8zM367.35 287.38h.8v.8h-.8zM368.23 278.74h.8v.8h-.8zM354.7 284.59h.8v.8h-.8zM376.09 273.49h.8v.8h-.8zM354.23 284.21h.8v.8h-.8zM360.98 286.31h.8v.8h-.8zM370.35 277.53h.8v.8h-.8zM367.29 276.67h.8v.8h-.8zM369.29 285.11h.8v.8h-.8zM377.4 283.69h.8v.8h-.8zM376.11 280.21h.8v.8h-.8zM372.14 284.32h.8v.8h-.8zM369.29 276.34h.8v.8h-.8zM377.16 280.86h.8v.8h-.8zM361.43 277.09h.8v.8h-.8zM373.66 272.39h.8v.8h-.8zM355.46 276.59h.8v.8h-.8zM354.42 285.36h.8v.8h-.8zM353.83 278.86h.8v.8h-.8zM367.57 271.48h.8v.8h-.8zM360.64 272.44h.8v.8h-.8zM362.9 275.44h.8v.8h-.8zM373.67 272.51h.8v.8h-.8zM358.22 283.46h.8v.8h-.8zM352.74 280.08h.8v.8h-.8zM359.22 277.77h.8v.8h-.8zM372.21 280.05h.8v.8h-.8zM362.44 271.32h.8v.8h-.8zM354.26 285.75h.8v.8h-.8zM354.92 286.31h.8v.8h-.8zM356.79 274.88h.8v.8h-.8zM369.98 271.71h.8v.8h-.8zM368.23 280.81h.8v.8h-.8zM354.38 285.82h.8v.8h-.8zM362.73 272.65h.8v.8h-.8zM365.57 286.3h.8v.8h-.8zM366.68 281.89h.8v.8h-.8zM359.67 288.31h.8v.8h-.8zM371.51 286.24h.8v.8h-.8zM367.75 287.68h.8v.8h-.8zM365.22 279.55h.8v.8h-.8zM378.05 282.15h.8v.8h-.8zM375.83 273.29h.8v.8h-.8zM364.67 279.58h.8v.8h-.8zM373.49 273.73h.8v.8h-.8zM358.37 270.88h.8v.8h-.8zM361.82 284.67h.8v.8h-.8zM366.18 281.01h.8v.8h-.8zM374.7 284.14h.8v.8h-.8zM368.43 272.34h.8v.8h-.8zM375.45 270.11h.8v.8h-.8zM373.09 280.55h.8v.8h-.8zM358.23 283.35h.8v.8h-.8zM365.03 284.59h.8v.8h-.8zM365.74 277.22h.8v.8h-.8zM370.65 281.96h.8v.8h-.8zM358.08 275.18h.8v.8h-.8zM377.59 279.95h.8v.8h-.8zM372.86 271.7h.8v.8h-.8zM374.84 282.3h.8v.8h-.8zM357.12 276.74h.8v.8h-.8zM377.57 280.04h.8v.8h-.8zM371.57 274.61h.8v.8h-.8zM365.32 283.45h.8v.8h-.8zM373.12 276.2h.8v.8h-.8zM357.16 284.23h.8v.8h-.8zM362.61 281.28h.8v.8h-.8zM376.8 283.37h.8v.8h-.8zM372.72 287.2h.8v.8h-.8zM363.33 277.35h.8v.8h-.8zM366.98 288.02h.8v.8h-.8zM365.68 275.23h.8v.8h-.8zM372.86 277.39h.8v.8h-.8zM376.46 276.63h.8v.8h-.8zM357.49 282.98h.8v.8h-.8zM367.41 285.12h.8v.8h-.8zM369.25 283.68h.8v.8h-.8zM365.17 272.81h.8v.8h-.8zM363.1 280.63h.8v.8h-.8zM360.8 280.89h.8v.8h-.8zM354.53 272.21h.8v.8h-.8zM361.44 288.61h.8v.8h-.8zM358.86 273.67h.8v.8h-.8zM370.69 281.82h.8v.8h-.8zM362.32 283.06h.8v.8h-.8zM362.28 280.47h.8v.8h-.8zM364.02 278.65h.8v.8h-.8zM367.05 275.56h.8v.8h-.8zM360.17 281.78h.8v.8h-.8zM367.24 276.61h.8v.8h-.8zM363.59 280.31h.8v.8h-.8zM367.17 274.02h.8v.8h-.8zM370.09 280.66h.8v.8h-.8zM358.07 278.27h.8v.8h-.8zM354.84 287.25h.8v.8h-.8zM376.11 274.54h.8v.8h-.8zM363.36 284.11h.8v.8h-.8zM366.92 277.18h.8v.8h-.8zM353.93 274.13h.8v.8h-.8zM375.27 280.56h.8v.8h-.8zM359.56 280.43h.8v.8h-.8zM358.52 282.21h.8v.8h-.8zM366.29 283.25h.8v.8h-.8zM356.76 287.17h.8v.8h-.8zM362.14 289.51h.8v.8h-.8zM378.09 274.04h.8v.8h-.8zM356.81 276.51h.8v.8h-.8zM365.12 285.33h.8v.8h-.8zM359.23 274.15h.8v.8h-.8zM375.51 288.07h.8v.8h-.8zM357.77 279.53h.8v.8h-.8zM359.11 286.88h.8v.8h-.8zM370.65 272.17h.8v.8h-.8zM372.25 281.5h.8v.8h-.8zM358.72 279.69h.8v.8h-.8zM365.92 287.4h.8v.8h-.8zM376.33 275.71h.8v.8h-.8zM358.97 280.25h.8v.8h-.8zM354.66 272.42h.8v.8h-.8zM373.87 288.01h.8v.8h-.8zM360.33 286.79h.8v.8h-.8zM377 285.44h.8v.8h-.8zM354.76 283.21h.8v.8h-.8zM370.25 283.75h.8v.8h-.8zM372.67 280.88h.8v.8h-.8zM366.19 274.3h.8v.8h-.8zM373.45 283.91h.8v.8h-.8zM373.98 276.49h.8v.8h-.8zM377.04 285.69h.8v.8h-.8zM376 275.95h.8v.8h-.8zM369.9 281.2h.8v.8h-.8zM356.13 282.09h.8v.8h-.8zM372.5 273.6h.8v.8h-.8zM353.26 281.26h.8v.8h-.8zM365.94 285.63h.8v.8h-.8zM361.28 278.02h.8v.8h-.8zM364.57 287.32h.8v.8h-.8zM367.64 285.41h.8v.8h-.8zM371.88 283.63h.8v.8h-.8zM377.64 276.96h.8v.8h-.8zM355.78 286.56h.8v.8h-.8zM371.36 282.35h.8v.8h-.8zM362.53 284.56h.8v.8h-.8zM369.77 285.9h.8v.8h-.8zM363.54 279.53h.8v.8h-.8zM354.22 275.66h.8v.8h-.8zM371.47 279.14h.8v.8h-.8zM371.04 281.21h.8v.8h-.8zM355.39 274.53h.8v.8h-.8zM356.75 287.96h.8v.8h-.8zM361.31 289.04h.8v.8h-.8zM378.6 286.5h.8v.8h-.8zM365.29 274.4h.8v.8h-.8zM355.73 275.78h.8v.8h-.8zM373.96 276.86h.8v.8h-.8zM360.28 284.55h.8v.8h-.8zM366.49 275.96h.8v.8h-.8zM362.95 287.57h.8v.8h-.8zM366.39 286.02h.8v.8h-.8zM374.93 275.46h.8v.8h-.8zM362.84 283.34h.8v.8h-.8zM368.11 279.36h.8v.8h-.8zM356.92 279.89h.8v.8h-.8zM372.53 282.73h.8v.8h-.8zM380.41 281.95h.8v.8h-.8zM388.27 281.55h.8v.8h-.8zM391.55 273.12h.8v.8h-.8zM377.64 281.4h.8v.8h-.8zM385.54 277.41h.8v.8h-.8zM385.46 276.85h.8v.8h-.8zM383.87 281.16h.8v.8h-.8zM385.77 286.76h.8v.8h-.8zM391.41 283.18h.8v.8h-.8zM382.99 279.34h.8v.8h-.8zM384.1 281.78h.8v.8h-.8zM391.72 281.02h.8v.8h-.8zM381.78 275.05h.8v.8h-.8zM387.89 273.3h.8v.8h-.8zM386.36 283.22h.8v.8h-.8zM386.33 284.08h.8v.8h-.8zM387.09 286.51h.8v.8h-.8zM380.81 272.28h.8v.8h-.8zM379.07 277.63h.8v.8h-.8zM391.39 276.3h.8v.8h-.8zM379.79 272.35h.8v.8h-.8zM389.24 280.14h.8v.8h-.8zM380.25 281.96h.8v.8h-.8zM392.24 281.21h.8v.8h-.8zM379.33 278.59h.8v.8h-.8zM387.23 281.83h.8v.8h-.8zM385.23 278.14h.8v.8h-.8zM381.46 278.51h.8v.8h-.8zM379.85 276.19h.8v.8h-.8zM383.58 286.25h.8v.8h-.8zM385.35 273.21h.8v.8h-.8zM385.78 282.52h.8v.8h-.8zM386.7 271.64h.8v.8h-.8zM389.21 279.43h.8v.8h-.8zM379.61 285.84h.8v.8h-.8zM391.52 276.22h.8v.8h-.8zM388.29 275.84h.8v.8h-.8zM392.02 277.86h.8v.8h-.8zM384.81 278.38h.8v.8h-.8zM384.84 286.32h.8v.8h-.8zM389.71 279h.8v.8h-.8zM383.14 281.75h.8v.8h-.8zM387.52 282.56h.8v.8h-.8zM382.74 282.46h.8v.8h-.8zM383.89 279.36h.8v.8h-.8zM384.42 284.6h.8v.8h-.8zM383.48 272.69h.8v.8h-.8zM377.01 272.48h.8v.8h-.8zM378.09 275.82h.8v.8h-.8zM381.42 274.39h.8v.8h-.8zM390.34 284.48h.8v.8h-.8zM390.68 282.01h.8v.8h-.8zM383.39 283.96h.8v.8h-.8zM389.22 285.8h.8v.8h-.8zM391.59 273.21h.8v.8h-.8zM388.16 273.02h.8v.8h-.8zM354.9 284.94h.8v.8h-.8zM383.3 274.9h.8v.8h-.8zM314.35 269.54h.8v.8h-.8zM336.84 293.78h.8v.8h-.8zM316.49 283.84h.8v.8h-.8zM343.77 296.85h.8v.8h-.8zM327.34 279.38h.8v.8h-.8zM340.11 277.77h.8v.8h-.8zM354.2 291.65h.8v.8h-.8zM351.91 275.9h.8v.8h-.8zM376.09 274.41h.8v.8h-.8zM390.01 263.09h.8v.8h-.8zM361.2 275.81h.8v.8h-.8zM321.91 286.66h.8v.8h-.8zM342.46 281.23h.8v.8h-.8zM357.48 265.81h.8v.8h-.8zM350.34 268.35h.8v.8h-.8zM349.9 273.32h.8v.8h-.8zM388.89 284.76h.8v.8h-.8zM331.2 280.64h.8v.8h-.8zM326.11 296.56h.8v.8h-.8zM347.06 267.8h.8v.8h-.8zM368.35 285.41h.8v.8h-.8zM363.08 267.66h.8v.8h-.8zM320.74 276.3h.8v.8h-.8zM346.8 270.86h.8v.8h-.8zM328.39 280.88h.8v.8h-.8zM366.66 263.23h.8v.8h-.8zM357.08 286.78h.8v.8h-.8zM378.38 280.44h.8v.8h-.8zM347.42 262.11h.8v.8h-.8zM386.31 288.52h.8v.8h-.8zM344.69 296.99h.8v.8h-.8zM357.9 276.38h.8v.8h-.8zM324.29 265.28h.8v.8h-.8zM345.45 262.08h.8v.8h-.8zM357.53 287.14h.8v.8h-.8zM375.35 275.83h.8v.8h-.8zM389.44 296.05h.8v.8h-.8zM339.68 285.93h.8v.8h-.8zM382.77 291.74h.8v.8h-.8z" fill="#222"/>
<path d="M329.12 276.48h.8v.8h-.8zM338.68 284.2h.8v.8h-.8zM331.96 275.65h.8v.8h-.8zM344.09 272.67h.8v.8h-.8zM308.89 280h.8v.8h-.8zM308.61 282.21h.8v.8h-.8zM315.51 273.95h.8v.8h-.8zM326.27 281.87h.8v.8h-.8zM336.46 275.63h.8v.8h-.8zM352.98 275.55h.8v.8h-.8zM350.49 287.3h.8v.8h-.8zM349.99 281.11h.8v.8h-.8zM311 280.11h.8v.8h-.8zM311.01 282.19h.8v.8h-.8zM314.88 285.92h.8v.8h-.8zM314.91 286.74h.8v.8h-.8zM310.83 276.24h.8v.8h-.8zM328.66 278.95h.8v.8h-.8zM328.81 284.38h.8v.8h-.8zM331.23 272.65h.8v.8h-.8zM342.02 276.49h.8v.8h-.8zM321.62 283.57h.8v.8h-.8zM341.94 281.12h.8v.8h-.8zM317.48 271.04h.8v.8h-.8zM326.57 288.07h.8v.8h-.8zM310.07 271.7h.8v.8h-.8zM346.32 285.24h.8v.8h-.8zM352.58 276.26h.8v.8h-.8zM318.68 286.45h.8v.8h-.8zM343.27 280.91h.8v.8h-.8zM330.36 288.03h.8v.8h-.8zM341.73 279.15h.8v.8h-.8zM340.73 285.29h.8v.8h-.8zM323.36 287.33h.8v.8h-.8zM310.32 279.92h.8v.8h-.8zM343.97 270.77h.8v.8h-.8zM332.86 274.22h.8v.8h-.8zM315.3 288.92h.8v.8h-.8zM323.63 284.53h.8v.8h-.8zM317.07 272.84h.8v.8h-.8zM312.29 277.33h.8v.8h-.8zM324.33 274.94h.8v.8h-.8zM343.8 285.98h.8v.8h-.8zM319.39 287.47h.8v.8h-.8zM317.1 282.02h.8v.8h-.8zM312.37 280.02h.8v.8h-.8zM330.83 284.99h.8v.8h-.8zM319.85 282.69h.8v.8h-.8zM317.82 276.73h.8v.8h-.8zM328.46 288.29h.8v.8h-.8zM314.49 277.67h.8v.8h-.8zM345.93 279.58h.8v.8h-.8zM329.23 282.21h.8v.8h-.8zM339.8 283.93h.8v.8h-.8zM351.55 279.08h.8v.8h-.8zM350.57 276.52h.8v.8h-.8zM313.45 288.4h.8v.8h-.8zM312.62 281.17h.8v.8h-.8zM325.67 280.32h.8v.8h-.8zM349.17 271.6h.8v.8h-.8zM313.03 273.01h.8v.8h-.8zM309.31 289.11h.8v.8h-.8zM337.85 276.26h.8v.8h-.8z" fill="#eee"/>
<defs><radialGradient id="eg" cx="0.6" cy="0.55" r="0.6"><stop offset="0" stop-color="#fafafa"/><stop offset="0.6" stop-color="#e0e0e0"/><stop offset="1" stop-color="#a0a0a0"/></radialGradient></defs>
<ellipse cx="367" cy="280.6" rx="10.3" ry="6.8" fill="url(#eg)" stroke="#666" stroke-width="0.4"/>
<rect x="353.7" y="271.4" width="24.1" height="17.6" fill="none" stroke="#333" stroke-width="1"/>
<rect x="358.8" y="276.4" width="13.7" height="4.2" fill="#fff" stroke="#666" stroke-width="0.4" rx="1.8"/>
<text x="365.6" y="279.82" font-size="3.7" text-anchor="middle" font-weight="bold" fill="#222">48.11</text>
<text x="303.3" y="250.7" font-size="4.2" text-anchor="end" fill="#222">10<tspan font-size="2.8" dy="-1.8">3</tspan></text>
<text x="303.3" y="268.1" font-size="4.2" text-anchor="end" fill="#222">10<tspan font-size="2.8" dy="-1.8">2</tspan></text>
<text x="303.3" y="285.5" font-size="4.2" text-anchor="end" fill="#222">10<tspan font-size="2.8" dy="-1.8">1</tspan></text>
<text x="303.3" y="302.7" font-size="4.2" text-anchor="end" fill="#222">10<tspan font-size="2.8" dy="-1.8">0</tspan></text>
<text x="306.9" y="309.7" font-size="4.2" text-anchor="middle" fill="#222">10<tspan font-size="2.8" dy="-1.8">0</tspan></text>
<text x="328.9" y="309.7" font-size="4.2" text-anchor="middle" fill="#222">10<tspan font-size="2.8" dy="-1.8">1</tspan></text>
<text x="350.9" y="309.7" font-size="4.2" text-anchor="middle" fill="#222">10<tspan font-size="2.8" dy="-1.8">2</tspan></text>
<text x="372.5" y="309.7" font-size="4.2" text-anchor="middle" fill="#222">10<tspan font-size="2.8" dy="-1.8">3</tspan></text>
<text transform="translate(293.16,266) rotate(-90)" font-size="6.3" text-anchor="middle" font-weight="bold" fill="#000" textLength="31" lengthAdjust="spacingAndGlyphs">Side Scatter</text>
<text x="349.6" y="317.99" font-size="7.5" text-anchor="middle" font-weight="bold" fill="#000">CD4</text>
<line x1="311" y1="315.7" x2="334.2" y2="315.7" stroke="#555" stroke-width="0.8"/>
<line x1="365.4" y1="315.7" x2="388" y2="315.7" stroke="#555" stroke-width="0.8"/>
<line x1="377" y1="268.3" x2="404.3" y2="246.53" stroke="#000" stroke-width="1.5"/>
<polygon points="408.6,243.1 405.92,248.56 402.68,244.5" fill="#000"/>
<line x1="380.5" y1="288.6" x2="402.09" y2="299.52" stroke="#000" stroke-width="1.5"/>
<polygon points="407,302 400.92,301.84 403.27,297.2" fill="#000"/>
<rect x="429.3" y="192.9" width="85.6" height="68.3" fill="none" stroke="#888" stroke-width="0.8"/>
<polyline points="430.08,258.09 432.33,256.88 434.92,255.32 438.38,252.9 440.98,250.3 443.57,245.98 446.17,239.92 448.76,232.14 451.36,225.91 453.95,221.58 455.68,220.03 457.41,221.07 459.14,224.18 460.87,228.33 462.6,232.48 464.33,236.29 466.06,241.48 467.79,245.63 469.52,247.54 472.12,247.88 473.85,247.02 475.58,244.77 477.31,241.13 479.04,235.25 480.77,224.87 481.98,216.22 483.02,207.92 483.88,202.73 484.75,198.92 485.61,198.57 486.48,200.65 487.52,204.98 488.55,211.38 489.42,221.41 490.63,235.25 492.01,247.71 493.74,256.01 495.47,260.51" fill="none" stroke="#888" stroke-width="0.7" stroke-linejoin="round"/>
<text x="424" y="207.63" font-size="4" text-anchor="end" fill="#111">300</text>
<text x="424" y="225.73" font-size="4" text-anchor="end" fill="#111">200</text>
<text x="424" y="244.23" font-size="4" text-anchor="end" fill="#111">100</text>
<text x="424" y="262.43" font-size="4" text-anchor="end" fill="#111">0</text>
<text x="429.4" y="268.7" font-size="4.2" text-anchor="middle" fill="#333">10<tspan font-size="2.8" dy="-1.8">0</tspan></text>
<text x="450.6" y="268.7" font-size="4.2" text-anchor="middle" fill="#333">10<tspan font-size="2.8" dy="-1.8">1</tspan></text>
<text x="471.9" y="268.7" font-size="4.2" text-anchor="middle" fill="#333">10<tspan font-size="2.8" dy="-1.8">2</tspan></text>
<text x="494" y="268.7" font-size="4.2" text-anchor="middle" fill="#333">10<tspan font-size="2.8" dy="-1.8">3</tspan></text>
<text transform="translate(413.98,222.7) rotate(-90)" font-size="5.8" text-anchor="middle" font-weight="bold" fill="#000" stroke="#000" stroke-width="0.3"># cells</text>
<line x1="413.4" y1="194.6" x2="413.4" y2="210.5" stroke="#666" stroke-width="0.8"/>
<line x1="413.4" y1="237.9" x2="413.4" y2="259.5" stroke="#666" stroke-width="0.8"/>
<line x1="474.7" y1="212.1" x2="509" y2="212.1" stroke="#444" stroke-width="0.8"/>
<line x1="474.7" y1="210.6" x2="474.7" y2="213.6" stroke="#444" stroke-width="0.8"/>
<line x1="509" y1="210.6" x2="509" y2="213.6" stroke="#444" stroke-width="0.8"/>
<rect x="483" y="201.5" width="16.4" height="5" fill="#fff" stroke="none" stroke-width="1"/>
<text x="491.2" y="206.04" font-size="5.7" text-anchor="middle" font-weight="bold" fill="#000">42.86</text>
<text x="472.4" y="275.04" font-size="7.1" text-anchor="middle" font-weight="bold" fill="#000">Foxp3</text>
<line x1="434.4" y1="271.8" x2="455.6" y2="271.8" stroke="#666" stroke-width="0.8"/>
<line x1="488.3" y1="271.8" x2="510.4" y2="271.8" stroke="#666" stroke-width="0.8"/>
<rect x="429.3" y="283.6" width="85.6" height="68.1" fill="none" stroke="#888" stroke-width="0.8"/>
<polyline points="430.08,345.67 432.33,343.94 434.92,340.82 437.52,336.5 440.11,330.44 442.71,322.83 445.3,314.18 447.38,305.36 449.11,297.22 450.49,291.52 451.53,289.27 452.39,291 453.61,296.71 454.99,302.42 456.55,310.55 458.28,321.79 460.01,332.17 462.6,341.69 465.2,346.01 467.79,347.4 470.39,346.36 472.98,344.28 475.58,341.69 478.17,337.71 479.9,332.17 481.29,326.64 482.33,323.87 483.02,323.18 483.88,324.56 485.09,328.71 486.48,334.77 487.86,340.48 489.42,345.15 491.15,348.61 492.88,350.51" fill="none" stroke="#888" stroke-width="0.7" stroke-linejoin="round"/>
<text x="424" y="294.03" font-size="4" text-anchor="end" fill="#111">400</text>
<text x="424" y="308.33" font-size="4" text-anchor="end" fill="#111">300</text>
<text x="424" y="323.53" font-size="4" text-anchor="end" fill="#111">200</text>
<text x="424" y="338.53" font-size="4" text-anchor="end" fill="#111">100</text>
<text x="424" y="352.43" font-size="4" text-anchor="end" fill="#111">0</text>
<text x="429.4" y="359.8" font-size="4.2" text-anchor="middle" fill="#333">10<tspan font-size="2.8" dy="-1.8">0</tspan></text>
<text x="450.6" y="359.8" font-size="4.2" text-anchor="middle" fill="#333">10<tspan font-size="2.8" dy="-1.8">1</tspan></text>
<text x="471.9" y="359.8" font-size="4.2" text-anchor="middle" fill="#333">10<tspan font-size="2.8" dy="-1.8">2</tspan></text>
<text x="494" y="359.8" font-size="4.2" text-anchor="middle" fill="#333">10<tspan font-size="2.8" dy="-1.8">3</tspan></text>
<text transform="translate(413.98,312.7) rotate(-90)" font-size="5.8" text-anchor="middle" font-weight="bold" fill="#000" stroke="#000" stroke-width="0.3"># cells</text>
<line x1="413.4" y1="284.6" x2="413.4" y2="300.5" stroke="#666" stroke-width="0.8"/>
<line x1="413.4" y1="327.9" x2="413.4" y2="349.5" stroke="#666" stroke-width="0.8"/>
<line x1="474.7" y1="302.1" x2="509" y2="302.1" stroke="#444" stroke-width="0.8"/>
<line x1="474.7" y1="300.6" x2="474.7" y2="303.6" stroke="#444" stroke-width="0.8"/>
<line x1="509" y1="300.6" x2="509" y2="303.6" stroke="#444" stroke-width="0.8"/>
<rect x="483" y="291.5" width="16.4" height="5" fill="#fff" stroke="none" stroke-width="1"/>
<text x="491.2" y="296.04" font-size="5.7" text-anchor="middle" font-weight="bold" fill="#000">20.73</text>
<text x="472.4" y="366.14" font-size="7.1" text-anchor="middle" font-weight="bold" fill="#000">Foxp3</text>
<line x1="432.5" y1="362.9" x2="455.6" y2="362.9" stroke="#666" stroke-width="0.8"/>
<line x1="488.3" y1="362.9" x2="510.4" y2="362.9" stroke="#666" stroke-width="0.8"/>
<text x="412.7" y="190.87" font-size="9.7" text-anchor="start" fill="#000" stroke="#000" stroke-width="0.22">Wild-type tumors</text>
<text x="409" y="282" font-size="9.5" text-anchor="start" fill="#000" stroke="#000" stroke-width="0.22">CCL5<tspan font-size="5.8" dy="-3.5">lo</tspan><tspan dy="3.5"> tumors</tspan></text>
<text x="-1.6" y="369.5" font-size="17.7" font-weight="bold">E</text>
<line x1="40.4" y1="382.6" x2="40.4" y2="505.8" stroke="#808080" stroke-width="1"/>
<line x1="40.4" y1="505.3" x2="249.5" y2="505.3" stroke="#808080" stroke-width="1"/>
<line x1="38.6" y1="505.3" x2="40.4" y2="505.3" stroke="#808080" stroke-width="0.8"/>
<text x="36.8" y="507.45" font-size="6" text-anchor="end" font-weight="bold" fill="#111">0</text>
<line x1="38.6" y1="480.9" x2="40.4" y2="480.9" stroke="#808080" stroke-width="0.8"/>
<text x="36.8" y="483.05" font-size="6" text-anchor="end" font-weight="bold" fill="#111">10</text>
<line x1="38.6" y1="456.5" x2="40.4" y2="456.5" stroke="#808080" stroke-width="0.8"/>
<text x="36.8" y="458.65" font-size="6" text-anchor="end" font-weight="bold" fill="#111">20</text>
<line x1="38.6" y1="432.1" x2="40.4" y2="432.1" stroke="#808080" stroke-width="0.8"/>
<text x="36.8" y="434.25" font-size="6" text-anchor="end" font-weight="bold" fill="#111">30</text>
<line x1="38.6" y1="407.7" x2="40.4" y2="407.7" stroke="#808080" stroke-width="0.8"/>
<text x="36.8" y="409.85" font-size="6" text-anchor="end" font-weight="bold" fill="#111">40</text>
<line x1="38.6" y1="383.3" x2="40.4" y2="383.3" stroke="#808080" stroke-width="0.8"/>
<text x="36.8" y="385.45" font-size="6" text-anchor="end" font-weight="bold" fill="#111">50</text>
<line x1="41" y1="505.3" x2="41" y2="508.5" stroke="#808080" stroke-width="0.8"/>
<line x1="93" y1="505.3" x2="93" y2="508.5" stroke="#808080" stroke-width="0.8"/>
<line x1="145" y1="505.3" x2="145" y2="508.5" stroke="#808080" stroke-width="0.8"/>
<line x1="197" y1="505.3" x2="197" y2="508.5" stroke="#808080" stroke-width="0.8"/>
<line x1="249.5" y1="505.3" x2="249.5" y2="508.5" stroke="#808080" stroke-width="0.8"/>
<line x1="59.4" y1="392.33" x2="59.4" y2="401.6" stroke="#000" stroke-width="0.9"/>
<line x1="57.7" y1="392.33" x2="61.1" y2="392.33" stroke="#000" stroke-width="0.9"/>
<line x1="57.7" y1="401.6" x2="61.1" y2="401.6" stroke="#000" stroke-width="0.9"/>
<line x1="73.8" y1="447.72" x2="73.8" y2="454.79" stroke="#000" stroke-width="0.9"/>
<line x1="72.1" y1="447.72" x2="75.5" y2="447.72" stroke="#000" stroke-width="0.9"/>
<line x1="72.1" y1="454.79" x2="75.5" y2="454.79" stroke="#000" stroke-width="0.9"/>
<rect x="51.8" y="401.6" width="15.2" height="103.7" fill="#000" stroke="#000" stroke-width="0.8"/>
<rect x="67" y="454.79" width="14.8" height="50.51" fill="#fff" stroke="#000" stroke-width="0.8"/>
<text x="67.5" y="522.68" font-size="8.6" text-anchor="middle" fill="#000" stroke="#000" stroke-width="0.18">Tumor</text>
<line x1="111.4" y1="461.62" x2="111.4" y2="467.48" stroke="#000" stroke-width="0.9"/>
<line x1="109.7" y1="461.62" x2="113.1" y2="461.62" stroke="#000" stroke-width="0.9"/>
<line x1="109.7" y1="467.48" x2="113.1" y2="467.48" stroke="#000" stroke-width="0.9"/>
<line x1="125.8" y1="457.72" x2="125.8" y2="464.31" stroke="#000" stroke-width="0.9"/>
<line x1="124.1" y1="457.72" x2="127.5" y2="457.72" stroke="#000" stroke-width="0.9"/>
<line x1="124.1" y1="464.31" x2="127.5" y2="464.31" stroke="#000" stroke-width="0.9"/>
<rect x="103.8" y="467.48" width="15.2" height="37.82" fill="#000" stroke="#000" stroke-width="0.8"/>
<rect x="119" y="464.31" width="14.8" height="40.99" fill="#fff" stroke="#000" stroke-width="0.8"/>
<text x="119.5" y="522.68" font-size="8.6" text-anchor="middle" fill="#000" stroke="#000" stroke-width="0.18">TDLN</text>
<line x1="163.4" y1="456.01" x2="163.4" y2="465.28" stroke="#000" stroke-width="0.9"/>
<line x1="161.7" y1="456.01" x2="165.1" y2="456.01" stroke="#000" stroke-width="0.9"/>
<line x1="161.7" y1="465.28" x2="165.1" y2="465.28" stroke="#000" stroke-width="0.9"/>
<line x1="177.8" y1="449.91" x2="177.8" y2="458.21" stroke="#000" stroke-width="0.9"/>
<line x1="176.1" y1="449.91" x2="179.5" y2="449.91" stroke="#000" stroke-width="0.9"/>
<line x1="176.1" y1="458.21" x2="179.5" y2="458.21" stroke="#000" stroke-width="0.9"/>
<rect x="155.8" y="465.28" width="15.2" height="40.02" fill="#000" stroke="#000" stroke-width="0.8"/>
<rect x="171" y="458.21" width="14.8" height="47.09" fill="#fff" stroke="#000" stroke-width="0.8"/>
<text x="171.5" y="522.68" font-size="8.6" text-anchor="middle" fill="#000" stroke="#000" stroke-width="0.18">NLN</text>
<line x1="215.4" y1="453.08" x2="215.4" y2="456.99" stroke="#000" stroke-width="0.9"/>
<line x1="213.7" y1="453.08" x2="217.1" y2="453.08" stroke="#000" stroke-width="0.9"/>
<line x1="213.7" y1="456.99" x2="217.1" y2="456.99" stroke="#000" stroke-width="0.9"/>
<line x1="229.8" y1="452.11" x2="229.8" y2="456.01" stroke="#000" stroke-width="0.9"/>
<line x1="228.1" y1="452.11" x2="231.5" y2="452.11" stroke="#000" stroke-width="0.9"/>
<line x1="228.1" y1="456.01" x2="231.5" y2="456.01" stroke="#000" stroke-width="0.9"/>
<rect x="207.8" y="456.99" width="15.2" height="48.31" fill="#000" stroke="#000" stroke-width="0.8"/>
<rect x="223" y="456.01" width="14.8" height="49.29" fill="#fff" stroke="#000" stroke-width="0.8"/>
<text x="223.5" y="522.68" font-size="8.6" text-anchor="middle" fill="#000" stroke="#000" stroke-width="0.18">Spleen</text>
<path d="M57.9 389.8 Q57.9 387.4 60.1 387.4 L74.5 387.4 Q76.7 387.4 76.7 389.8" fill="none" stroke="#444" stroke-width="0.8"/>
<ellipse cx="67.9" cy="384.3" rx="1.1" ry="0.85" fill="#000"/>
<path d="M110.7 449 Q110.7 446.6 112.9 446.6 L127.2 446.6 Q129.4 446.6 129.4 449" fill="none" stroke="#444" stroke-width="0.8"/>
<text x="120.05" y="444.87" font-size="6.9" text-anchor="middle" fill="#000">NS</text>
<path d="M162.4 447.6 Q162.4 445.2 164.6 445.2 L179.6 445.2 Q181.8 445.2 181.8 447.6" fill="none" stroke="#444" stroke-width="0.8"/>
<text x="172.1" y="442.97" font-size="6.9" text-anchor="middle" fill="#000">NS</text>
<path d="M213.9 445 Q213.9 442.6 216.1 442.6 L230.3 442.6 Q232.5 442.6 232.5 445" fill="none" stroke="#444" stroke-width="0.8"/>
<text x="223.2" y="439.67" font-size="6.9" text-anchor="middle" fill="#000">NS</text>
<text transform="translate(17.82,444.2) rotate(-90)" font-size="9" text-anchor="middle" font-weight="bold" fill="#000">% Foxp3<tspan font-size="5.4" dy="-3.3">+</tspan></text>
<rect x="118.3" y="375.4" width="131.6" height="14.7" fill="#fff" stroke="#777" stroke-width="0.8"/>
<rect x="121.4" y="379.9" width="5.3" height="6.2" fill="#000" stroke="none" stroke-width="1"/>
<text x="129.6" y="386.87" font-size="8.85" text-anchor="start" fill="#000" stroke="#000" stroke-width="0.18">WT Tumors</text>
<rect x="179" y="381" width="4.1" height="4.7" fill="#fff" stroke="#333" stroke-width="0.7"/>
<text x="186.8" y="386.87" font-size="8.85" text-anchor="start" fill="#000" stroke="#000" stroke-width="0.18">CCL5<tspan font-size="5.3" dy="-3.2">lo</tspan><tspan dy="3.2"> Tumors</tspan></text>
</svg>
</body></html>
